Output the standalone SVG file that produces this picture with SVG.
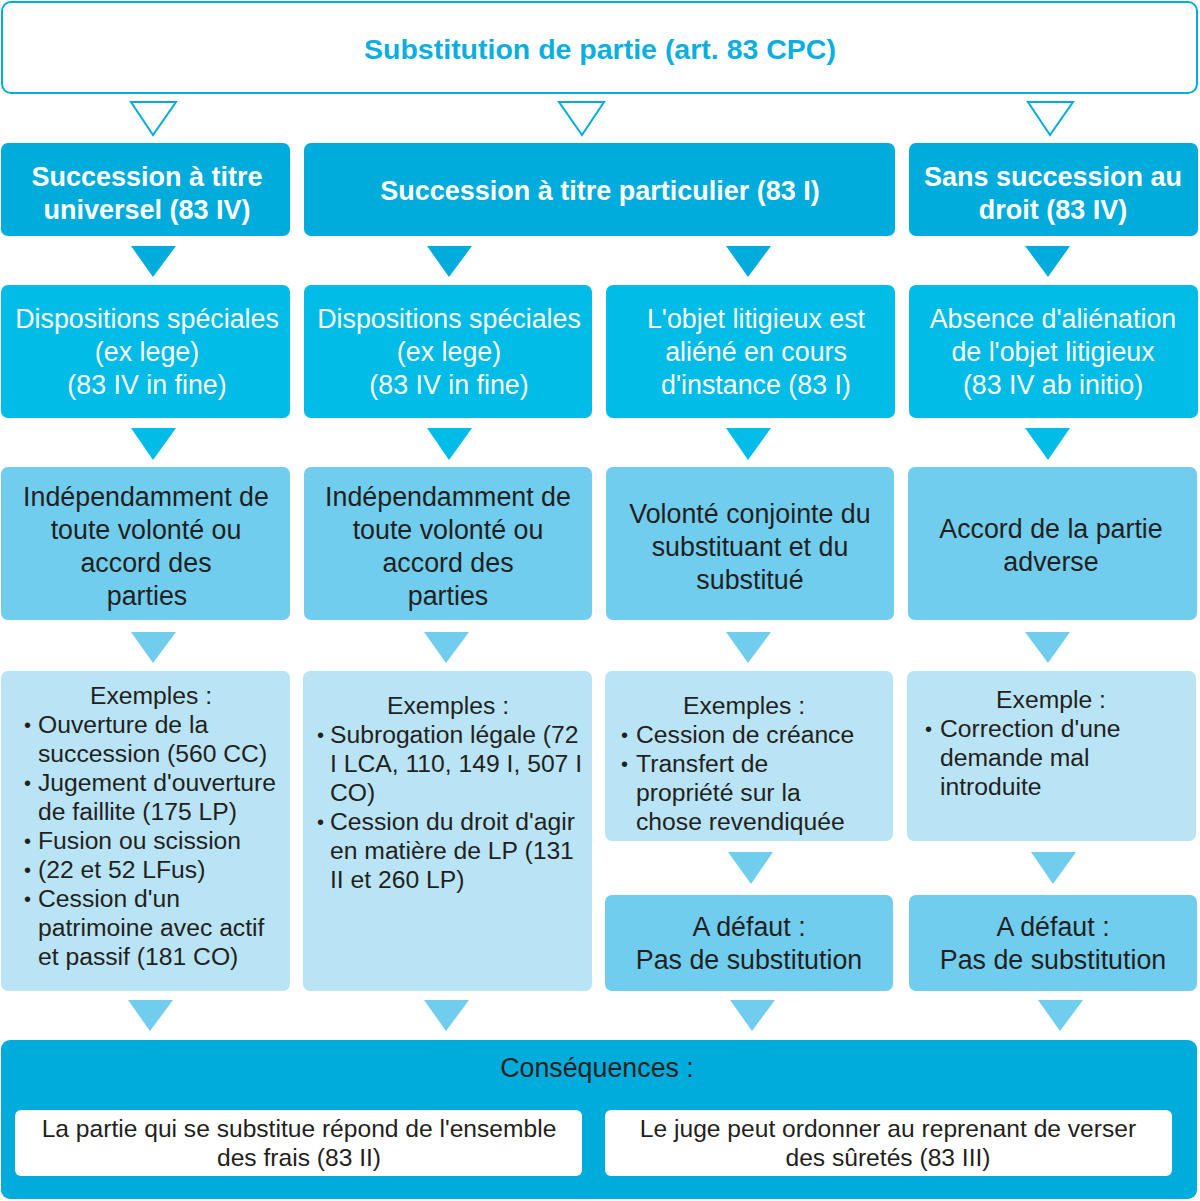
<svg xmlns="http://www.w3.org/2000/svg" width="1200" height="1201" viewBox="0 0 1200 1201">
  <style>
    text { font-family: "Liberation Sans", Arial, Helvetica, sans-serif; }
    .title { font-size: 28.5px; font-weight: bold; fill: #0aaee0; text-anchor: middle; }
    .h1 { font-size: 27px; font-weight: bold; fill: #ffffff; text-anchor: middle; }
    .h2 { font-size: 26.8px; fill: #ffffff; text-anchor: middle; }
    .dk { font-size: 26.8px; fill: #231f20; text-anchor: middle; }
    .ex { font-size: 24.7px; fill: #231f20; }
    .exh { font-size: 24.7px; fill: #231f20; text-anchor: middle; }
    .bul { font-size: 20px; fill: #231f20; }
    .sm { font-size: 24.6px; fill: #231f20; text-anchor: middle; }
    .c0 { fill: #00acdc; }
    .c1 { fill: #00bce6; }
    .c2 { fill: #70cdee; }
    .c3 { fill: #b9e4f5; }
  </style>

  <!-- connectors: arrowhead triangles between levels -->
  <g id="connectors">
    <g fill="#ffffff" stroke="#00acdc" stroke-width="2">
      <polygon points="131,102 176,102 153,135"/>
      <polygon points="559,102 604,102 582,135"/>
      <polygon points="1028,102 1073,102 1050,135"/>
    </g>
    <g class="c0">
      <polygon points="131,246 176,246 153,277"/>
      <polygon points="427,246 472,246 449,277"/>
      <polygon points="726,246 771,246 748,277"/>
      <polygon points="1025,246 1070,246 1048,277"/>
    </g>
    <g class="c1">
      <polygon points="131,428 176,428 153,460"/>
      <polygon points="427,428 472,428 449,460"/>
      <polygon points="726,428 771,428 748,460"/>
      <polygon points="1025,428 1070,428 1048,460"/>
    </g>
    <g class="c2">
      <polygon points="131,632 176,632 153,663"/>
      <polygon points="424,632 469,632 446,663"/>
      <polygon points="726,632 771,632 748,663"/>
      <polygon points="1025,632 1070,632 1048,663"/>
      <polygon points="728,852 773,852 751,884"/>
      <polygon points="1031,852 1076,852 1053,884"/>
      <polygon points="128,1000 173,1000 150,1031"/>
      <polygon points="424,1000 469,1000 446,1031"/>
      <polygon points="730,1000 775,1000 752,1031"/>
      <polygon points="1038,1000 1083,1000 1060,1031"/>
    </g>
  </g>

  <!-- title -->
  <g id="title">
    <rect x="2" y="2" width="1195" height="91" rx="9" fill="#ffffff" stroke="#00acdc" stroke-width="2"/>
    <text class="title" x="600" y="59">Substitution de partie (art. 83 CPC)</text>
  </g>

  <!-- level 1: kinds of succession -->
  <g id="universel">
    <rect class="c0" x="1" y="143" width="289" height="93" rx="7"/>
    <text class="h1" x="147" y="186">Succession à titre</text>
    <text class="h1" x="147" y="219">universel (83 IV)</text>
  </g>
  <g id="particulier">
    <rect class="c0" x="304" y="143" width="591" height="93" rx="7"/>
    <text class="h1" x="600" y="200">Succession à titre particulier (83 I)</text>
  </g>
  <g id="sans-succession">
    <rect class="c0" x="909" y="143" width="289" height="93" rx="7"/>
    <text class="h1" x="1053" y="186">Sans succession au</text>
    <text class="h1" x="1053" y="219">droit (83 IV)</text>
  </g>

  <!-- level 2: grounds -->
  <g id="dispositions-1">
    <rect class="c1" x="1" y="285" width="289" height="133" rx="7"/>
    <text class="h2" x="147" y="328">Dispositions spéciales</text>
    <text class="h2" x="147" y="361">(ex lege)</text>
    <text class="h2" x="147" y="394">(83 IV in fine)</text>
  </g>
  <g id="dispositions-2">
    <rect class="c1" x="304" y="285" width="288" height="133" rx="7"/>
    <text class="h2" x="449" y="328">Dispositions spéciales</text>
    <text class="h2" x="449" y="361">(ex lege)</text>
    <text class="h2" x="449" y="394">(83 IV in fine)</text>
  </g>
  <g id="objet-aliene">
    <rect class="c1" x="606" y="285" width="289" height="133" rx="7"/>
    <text class="h2" x="756" y="328">L'objet litigieux est</text>
    <text class="h2" x="756" y="361">aliéné en cours</text>
    <text class="h2" x="756" y="394">d'instance (83 I)</text>
  </g>
  <g id="absence-alienation">
    <rect class="c1" x="909" y="285" width="289" height="133" rx="7"/>
    <text class="h2" x="1053" y="328">Absence d'aliénation</text>
    <text class="h2" x="1053" y="361">de l'objet litigieux</text>
    <text class="h2" x="1053" y="394">(83 IV ab initio)</text>
  </g>

  <!-- level 3: will of the parties -->
  <g id="independamment-1">
    <rect class="c2" x="1" y="467" width="289" height="153" rx="7"/>
    <text class="dk" x="146" y="506">Indépendamment de</text>
    <text class="dk" x="146" y="539">toute volonté ou</text>
    <text class="dk" x="146" y="572">accord des</text>
    <text class="dk" x="147" y="605">parties</text>
  </g>
  <g id="independamment-2">
    <rect class="c2" x="304" y="467" width="288" height="153" rx="7"/>
    <text class="dk" x="448" y="506">Indépendamment de</text>
    <text class="dk" x="448" y="539">toute volonté ou</text>
    <text class="dk" x="448" y="572">accord des</text>
    <text class="dk" x="448" y="605">parties</text>
  </g>
  <g id="volonte-conjointe">
    <rect class="c2" x="606" y="467" width="288" height="153" rx="7"/>
    <text class="dk" x="750" y="523">Volonté conjointe du</text>
    <text class="dk" x="750" y="556">substituant et du</text>
    <text class="dk" x="750" y="589">substitué</text>
  </g>
  <g id="accord-adverse">
    <rect class="c2" x="908" y="467" width="289" height="153" rx="7"/>
    <text class="dk" x="1051" y="538">Accord de la partie</text>
    <text class="dk" x="1051" y="571">adverse</text>
  </g>

  <!-- level 4: examples -->
  <g id="exemples-1">
    <rect class="c3" x="1" y="671" width="289" height="320" rx="7"/>
    <text class="exh" x="151" y="704">Exemples :</text>
    <text class="bul" x="24" y="732">•</text>
    <text class="ex" x="38" y="733">Ouverture de la</text>
    <text class="ex" x="38" y="762">succession (560 CC)</text>
    <text class="bul" x="24" y="790">•</text>
    <text class="ex" x="38" y="791">Jugement d'ouverture</text>
    <text class="ex" x="38" y="820">de faillite (175 LP)</text>
    <text class="bul" x="24" y="848">•</text>
    <text class="ex" x="38" y="849">Fusion ou scission</text>
    <text class="bul" x="24" y="877">•</text>
    <text class="ex" x="38" y="878">(22 et 52 LFus)</text>
    <text class="bul" x="24" y="906">•</text>
    <text class="ex" x="38" y="907">Cession d'un</text>
    <text class="ex" x="38" y="936">patrimoine avec actif</text>
    <text class="ex" x="38" y="965">et passif (181 CO)</text>
  </g>
  <g id="exemples-2">
    <rect class="c3" x="303" y="671" width="289" height="320" rx="7"/>
    <text class="exh" x="448" y="714">Exemples :</text>
    <text class="bul" x="317" y="742">•</text>
    <text class="ex" x="330" y="743">Subrogation légale (72</text>
    <text class="ex" x="330" y="772">I LCA, 110, 149 I, 507 I</text>
    <text class="ex" x="330" y="801">CO)</text>
    <text class="bul" x="317" y="829">•</text>
    <text class="ex" x="330" y="830">Cession du droit d'agir</text>
    <text class="ex" x="330" y="859">en matière de LP (131</text>
    <text class="ex" x="330" y="888">II et 260 LP)</text>
  </g>
  <g id="exemples-3">
    <rect class="c3" x="605" y="671" width="288" height="170" rx="7"/>
    <text class="exh" x="744" y="714">Exemples :</text>
    <text class="bul" x="621" y="742">•</text>
    <text class="ex" x="636" y="743">Cession de créance</text>
    <text class="bul" x="621" y="771">•</text>
    <text class="ex" x="636" y="772">Transfert de</text>
    <text class="ex" x="636" y="801">propriété sur la</text>
    <text class="ex" x="636" y="830">chose revendiquée</text>
  </g>
  <g id="exemple-4">
    <rect class="c3" x="907" y="671" width="289" height="170" rx="7"/>
    <text class="exh" x="1051" y="708">Exemple :</text>
    <text class="bul" x="925" y="736">•</text>
    <text class="ex" x="940" y="737">Correction d'une</text>
    <text class="ex" x="940" y="766">demande mal</text>
    <text class="ex" x="940" y="795">introduite</text>
  </g>

  <!-- level 5: fallback -->
  <g id="a-defaut-3">
    <rect class="c2" x="605" y="895" width="288" height="96" rx="7"/>
    <text class="dk" x="749" y="936">A défaut :</text>
    <text class="dk" x="749" y="969">Pas de substitution</text>
  </g>
  <g id="a-defaut-4">
    <rect class="c2" x="909" y="895" width="288" height="96" rx="7"/>
    <text class="dk" x="1053" y="936">A défaut :</text>
    <text class="dk" x="1053" y="969">Pas de substitution</text>
  </g>

  <!-- consequences -->
  <g id="consequences">
    <rect class="c0" x="1" y="1040" width="1196" height="159" rx="9"/>
    <text class="dk" x="597" y="1077">Conséquences :</text>
    <rect x="15" y="1110" width="567" height="66" rx="6" fill="#ffffff"/>
    <text class="sm" x="299" y="1137">La partie qui se substitue répond de l'ensemble</text>
    <text class="sm" x="299" y="1166">des frais (83 II)</text>
    <rect x="605" y="1110" width="567" height="66" rx="6" fill="#ffffff"/>
    <text class="sm" x="888" y="1137">Le juge peut ordonner au reprenant de verser</text>
    <text class="sm" x="888" y="1166">des sûretés (83 III)</text>
  </g>
</svg>
